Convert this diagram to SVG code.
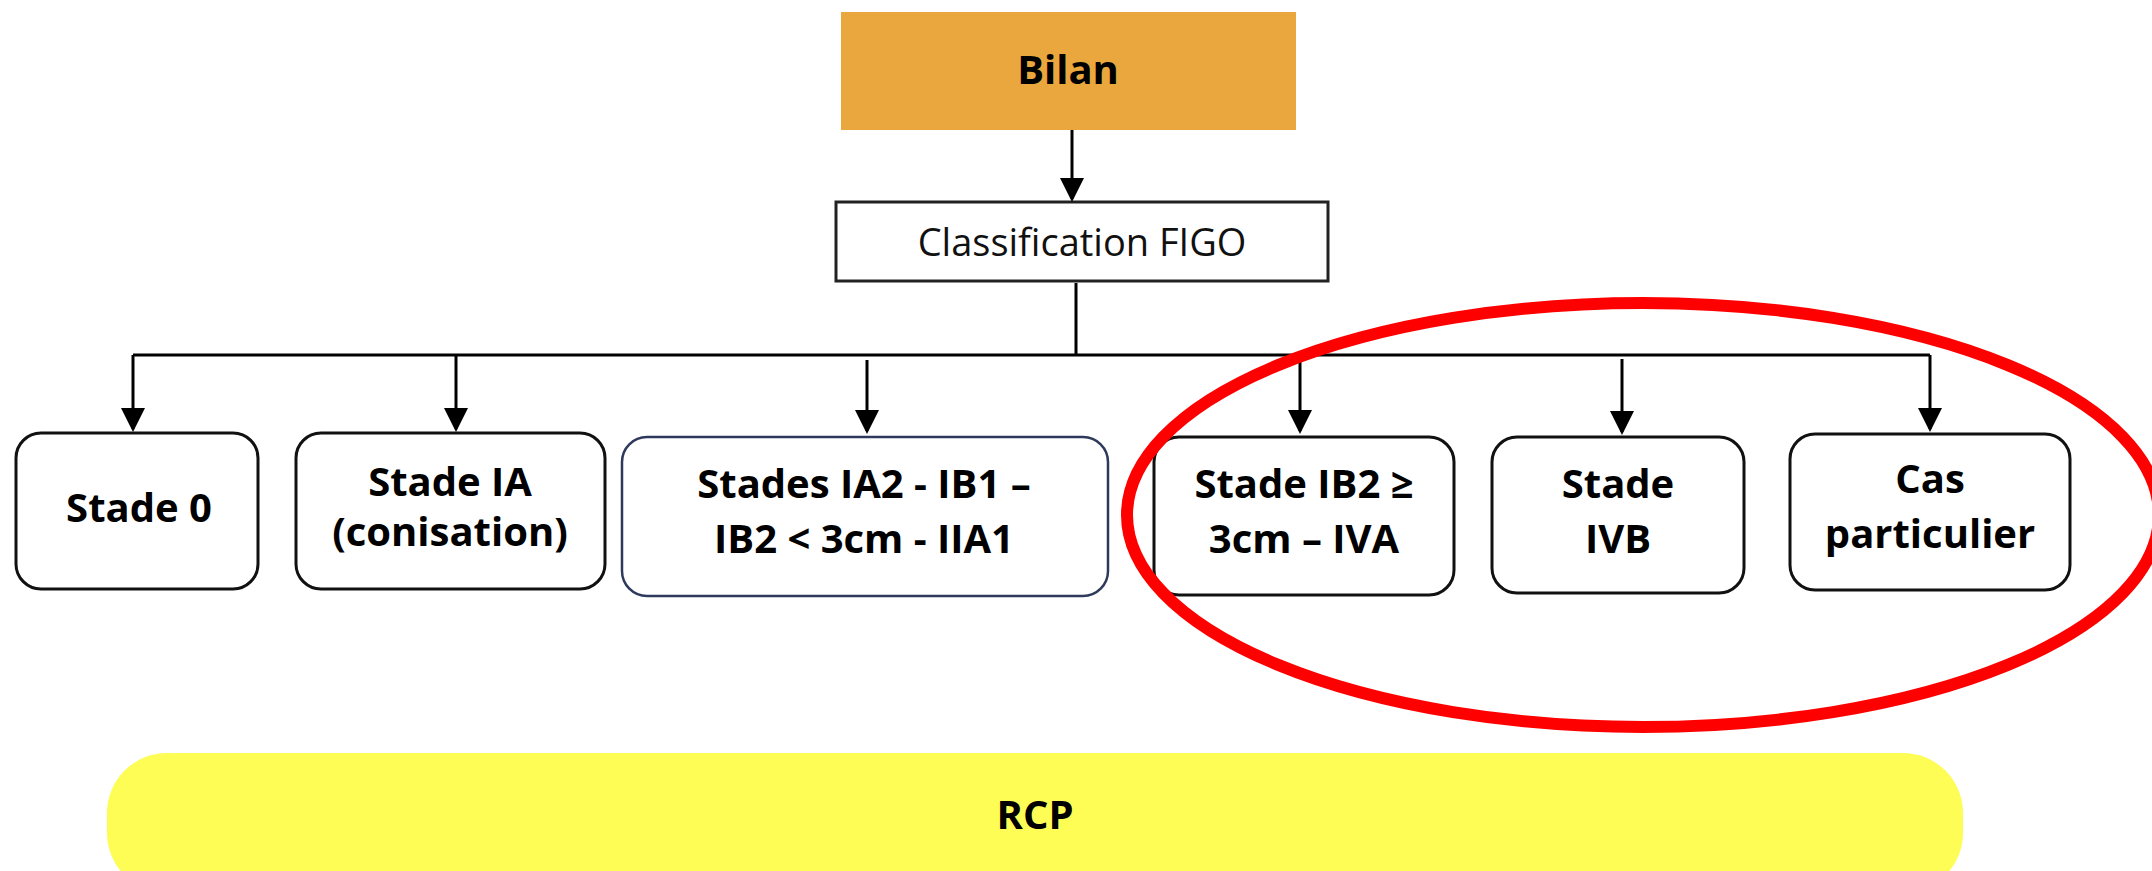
<svg xmlns="http://www.w3.org/2000/svg" width="2152" height="871" viewBox="0 0 2152 871">
<style>
.box{fill:#fff;stroke:#111;stroke-width:3}
.t{font-family:"Open Sans","Liberation Sans",sans-serif;font-weight:700;font-size:40px;fill:#000;text-anchor:middle}
.c{stroke:#000;stroke-width:3;fill:none}
</style>
<defs>
<marker id="ah" viewBox="0 0 24 24" refX="21" refY="12" markerWidth="24" markerHeight="24" markerUnits="userSpaceOnUse" orient="auto">
<path d="M0,0 L24,12 L0,24 z" fill="#000"/>
</marker>
</defs>
<rect width="2152" height="871" fill="#fff"/>
<g id="bilan">
<rect x="841" y="12" width="455" height="118" fill="#E9A73D"/>
<text class="t" x="1068" y="84" font-size="38">Bilan</text>
</g>
<g id="classification">
<rect x="836" y="202" width="492" height="79" fill="#fff" stroke="#222" stroke-width="3"/>
<text x="1082" y="256" font-family="'Open Sans','Liberation Sans',sans-serif" font-weight="400" font-size="38" text-anchor="middle" fill="#111">Classification FIGO</text>
</g>
<g id="connectors">
<line class="c" x1="1072" y1="130" x2="1072" y2="199" marker-end="url(#ah)"/>
<line class="c" x1="1076" y1="283" x2="1076" y2="355"/>
<path class="c" d="M133 355 H1930"/>
<line class="c" x1="133" y1="355" x2="133" y2="429" marker-end="url(#ah)"/>
<line class="c" x1="456" y1="355" x2="456" y2="429" marker-end="url(#ah)"/>
<line class="c" x1="867" y1="360" x2="867" y2="431" marker-end="url(#ah)"/>
<line class="c" x1="1300" y1="355" x2="1300" y2="431" marker-end="url(#ah)"/>
<line class="c" x1="1622" y1="359" x2="1622" y2="432" marker-end="url(#ah)"/>
<line class="c" x1="1930" y1="355" x2="1930" y2="429" marker-end="url(#ah)"/>
</g>
<g id="stade0">
<rect class="box" x="16" y="433" width="242" height="156" rx="25"/>
<text class="t" x="139" y="522">Stade 0</text>
</g>
<g id="stadeIA">
<rect class="box" x="296" y="433" width="309" height="156" rx="25"/>
<text class="t" x="450" y="496">Stade IA</text>
<text class="t" x="450" y="546">(conisation)</text>
</g>
<g id="stadesIA2">
<rect x="622" y="437" width="486" height="159" rx="25" fill="#fff" stroke="#2E3A5C" stroke-width="2.5"/>
<text class="t" x="864" y="498">Stades IA2 - IB1 –</text>
<text class="t" x="864" y="553">IB2 &lt; 3cm - IIA1</text>
</g>
<g id="stadeIB2">
<rect class="box" x="1154" y="437" width="300" height="158" rx="25"/>
<text class="t" x="1304" y="498">Stade IB2 ≥</text>
<text class="t" x="1304" y="553">3cm – IVA</text>
</g>
<g id="stadeIVB">
<rect class="box" x="1492" y="437" width="252" height="156" rx="25"/>
<text class="t" x="1618" y="498">Stade</text>
<text class="t" x="1618" y="553">IVB</text>
</g>
<g id="cas">
<rect class="box" x="1790" y="434" width="280" height="156" rx="25"/>
<text class="t" x="1930" y="493">Cas</text>
<text class="t" x="1930" y="548">particulier</text>
</g>
<g id="rcp">
<rect x="107" y="753" width="1856" height="140" rx="60" fill="#FDFD55"/>
<text class="t" x="1035" y="829">RCP</text>
</g>
<g id="highlight">
<ellipse cx="1643" cy="515" rx="516" ry="212" fill="none" stroke="#FF0000" stroke-width="12"/>
</g>
</svg>
